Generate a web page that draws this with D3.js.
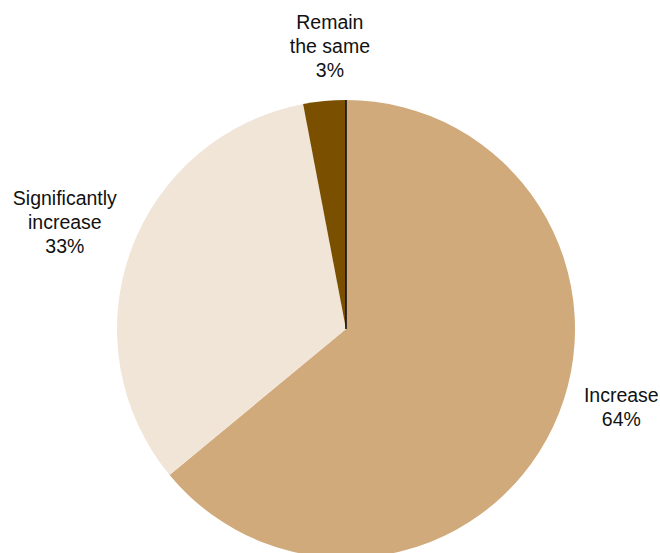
<!DOCTYPE html>
<html>
<head>
<meta charset="utf-8">
<script src="https://cdn.jsdelivr.net/npm/d3@7"></script>
<style>
  html, body { margin: 0; padding: 0; background: #fff; }
  svg { display: block; }
  text { font-family: "Liberation Sans", Arial, Helvetica, sans-serif; fill: #111; }
</style>
</head>
<body>
<svg id="chart" width="660" height="553"></svg>
<script>
// Survey answer shares (percent)
const categories = ["Increase", "Significantly increase", "Remain the same"];
const values = [64, 33, 3];
const labelLines = [["Increase", "64%"], ["Significantly", "increase", "33%"], ["Remain", "the same", "3%"]];
const colors = ["#D0AA7A", "#F1E5D8", "#7A5000"];

// Layout
const cx = 346, cy = 329, radius = 229;
const fontSize = 19.5, lineGap = 24;
// label block anchor: polar offset from the slice's mid angle, plus a nudge
const labelPlace = [
  { r: 287, dAngle: -8.8, baseline: 402 },
  { r: 299, dAngle: 0.1, baseline: 205 },
  { r: 280, dAngle: 2.1, baseline: 29 }
];

const svg = d3.select("#chart");
const g = svg.append("g").attr("transform", `translate(${cx},${cy})`);

const pie = d3.pie().sort(null).value(d => d)(values);
const arc = d3.arc().innerRadius(0).outerRadius(radius);

g.selectAll("path.slice")
  .data(pie)
  .join("path")
  .attr("class", "slice")
  .attr("d", arc)
  .attr("fill", (d, i) => colors[i]);

// thin dark rule along the start of the first slice
const a0 = pie[0].startAngle;
g.append("line")
  .attr("x1", 0).attr("y1", 0)
  .attr("x2", radius * Math.sin(a0))
  .attr("y2", -radius * Math.cos(a0))
  .attr("stroke", "#111")
  .attr("stroke-width", 1.6);

// labels
pie.forEach((d, i) => {
  const p = labelPlace[i];
  const mid = (d.startAngle + d.endAngle) / 2 + p.dAngle * Math.PI / 180;
  const x = cx + p.r * Math.sin(mid);
  const lines = labelLines[i];
  const t = svg.append("text")
    .attr("text-anchor", "middle")
    .attr("font-size", fontSize);
  lines.forEach((ln, k) => {
    t.append("tspan")
      .attr("x", x)
      .attr("y", p.baseline + k * lineGap)
      .text(ln);
  });
});
</script>
</body>
</html>
